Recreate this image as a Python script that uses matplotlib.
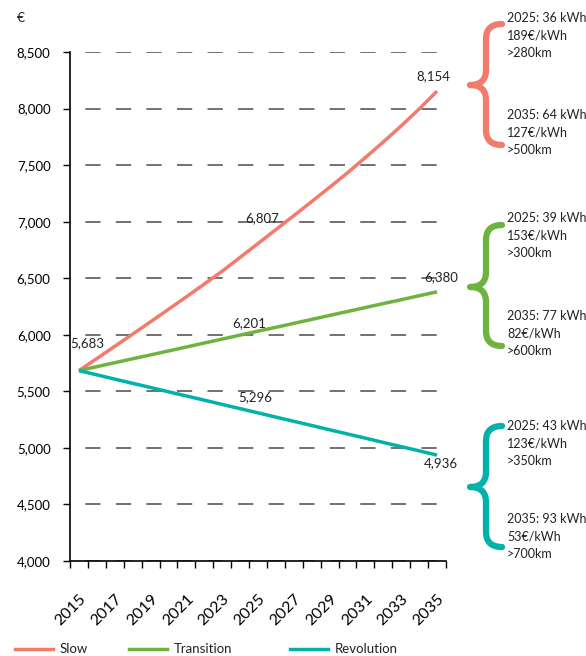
import matplotlib.pyplot as plt
from matplotlib.path import Path
from matplotlib.patches import PathPatch
from matplotlib.lines import Line2D

plt.rcParams['font.family'] = ['Lato', 'DejaVu Sans']

years = list(range(2015, 2036))
slow = [5683, 5790, 5898, 6006, 6115, 6225, 6336, 6448, 6562, 6684, 6807,
        6930, 7053, 7178, 7304, 7432, 7567, 7705, 7847, 7996, 8154]
transition = [5683, 5718, 5753, 5788, 5822, 5857, 5892, 5927, 5962, 5997, 6032,
              6066, 6101, 6136, 6171, 6206, 6241, 6276, 6310, 6345, 6380]
revolution = [5683, 5646, 5608, 5571, 5534, 5496, 5459, 5422, 5384, 5347, 5310,
              5272, 5235, 5198, 5160, 5123, 5086, 5048, 5011, 4974, 4936]

series_names = ['Slow', 'Transition', 'Revolution']
colors = ['#F27B6B', '#6DB33F', '#00B2A9']

# data labels: (year, value, text)
point_labels = [(2015, 5683, '5,683'), (2025, 6807, '6,807'), (2035, 8154, '8,154'),
                (2025, 6201, '6,201'), (2035, 6380, '6,380'),
                (2025, 5296, '5,296'), (2035, 4936, '4,936')]
label_offsets = [(8, 27), (4, 25), (-4, 15), (-9, -11), (4, 15), (-3, 17), (4, -8)]

# battery notes next to each brace
notes = [
    ['2025: 36 kWh', '189€/kWh', '>280km', '2035: 64 kWh', '127€/kWh', '>500km'],
    ['2025: 39 kWh', '153€/kWh', '>300km', '2035: 77 kWh', '82€/kWh', '>600km'],
    ['2025: 43 kWh', '123€/kWh', '>350km', '2035: 93 kWh', '53€/kWh', '>700km'],
]

W, H = 586, 656
fig = plt.figure(figsize=(W / 100, H / 100), dpi=100)
ax = fig.add_axes([70 / W, 1 - 561 / H, (446 - 70) / W, (561 - 52) / H])

xs = [y - 2015 for y in years]
for vals, c, name in zip([slow, transition, revolution], colors, series_names):
    ax.plot(xs, vals, color=c, lw=2.5, label=name, solid_capstyle='butt', zorder=3)

ax.set_xlim(-0.5, 20.5)
ax.set_ylim(4000, 8500)
ax.set_yticks(range(4000, 8501, 500))
ax.set_yticklabels([f'{v:,}' for v in range(4000, 8501, 500)])
ax.set_xticks(xs[::2])
ax.set_xticklabels([str(y) for y in years[::2]], rotation=45, ha='right',
                   rotation_mode='anchor', fontsize=11.5)
ax.set_xticks([x - 0.5 for x in range(22)], minor=True)
ax.tick_params(axis='x', which='major', length=0, pad=22)
ax.tick_params(axis='x', which='minor', length=5, width=1)
ax.tick_params(axis='y', length=5, width=1, labelsize=9.5, pad=9)
for s in ['top', 'right']:
    ax.spines[s].set_visible(False)
for s in ['left', 'bottom']:
    ax.spines[s].set_linewidth(1.2)

ax.yaxis.grid(True, color='#4a4a4a', lw=1.1, linestyle=(10, (10, 10)))
ax.set_axisbelow(True)

for (yr, v, txt), (dx, dy) in zip(point_labels, label_offsets):
    ax.annotate(txt, xy=(yr - 2015, v), xytext=(dx, dy), textcoords='offset pixels',
                ha='center', va='center', fontsize=9.5, color='#222222')

fig.text(17 / W, 1 - 18 / H, '€', fontsize=10, va='center', color='#222222')


def px(x, y):
    return (x / W, 1 - y / H)


def brace(x_end, x_spine, x_cusp, y_top, y_mid, y_bot, color, r=15):
    verts = [px(x_end, y_top), px(x_spine, y_top), px(x_spine, y_top + r),
             px(x_spine, y_mid - r),
             px(x_spine, y_mid), px(x_cusp, y_mid),
             px(x_spine, y_mid), px(x_spine, y_mid + r),
             px(x_spine, y_bot - r),
             px(x_spine, y_bot), px(x_end, y_bot)]
    codes = [Path.MOVETO, Path.CURVE3, Path.CURVE3, Path.LINETO,
             Path.CURVE3, Path.CURVE3, Path.CURVE3, Path.CURVE3,
             Path.LINETO, Path.CURVE3, Path.CURVE3]
    p = PathPatch(Path(verts, codes), transform=fig.transFigure, fill=False,
                  edgecolor=color, lw=4.5, capstyle='round', joinstyle='round')
    fig.add_artist(p)


brace_rows = [(24, 85, 145), (225, 287, 346), (426, 487, 547)]
note_rows = [(18, 115), (218, 316), (426, 519)]
for (yt, ym, yb), (nt, nb), c, lines in zip(brace_rows, note_rows, colors, notes):
    brace(502, 486, 470, yt, ym, yb, c)
    ys = [nt, nt + 17.5, nt + 35, nb, nb + 17.5, nb + 35]
    for t, yy in zip(lines, ys):
        fig.text(507 / W, 1 - yy / H, t, fontsize=9, va='center', color='#222222')

# legend along the bottom
leg_x = [(15, 53, 60), (129, 167, 174), (290, 328, 335)]
for (x0, x1, xt), c, name in zip(leg_x, colors, series_names):
    fig.add_artist(Line2D([x0 / W, x1 / W], [1 - 649 / H] * 2, color=c, lw=2.5,
                          transform=fig.transFigure))
    fig.text(xt / W, 1 - 649 / H, name, fontsize=9.5, va='center', color='#222222')

fig.savefig('out.png', dpi=100)
